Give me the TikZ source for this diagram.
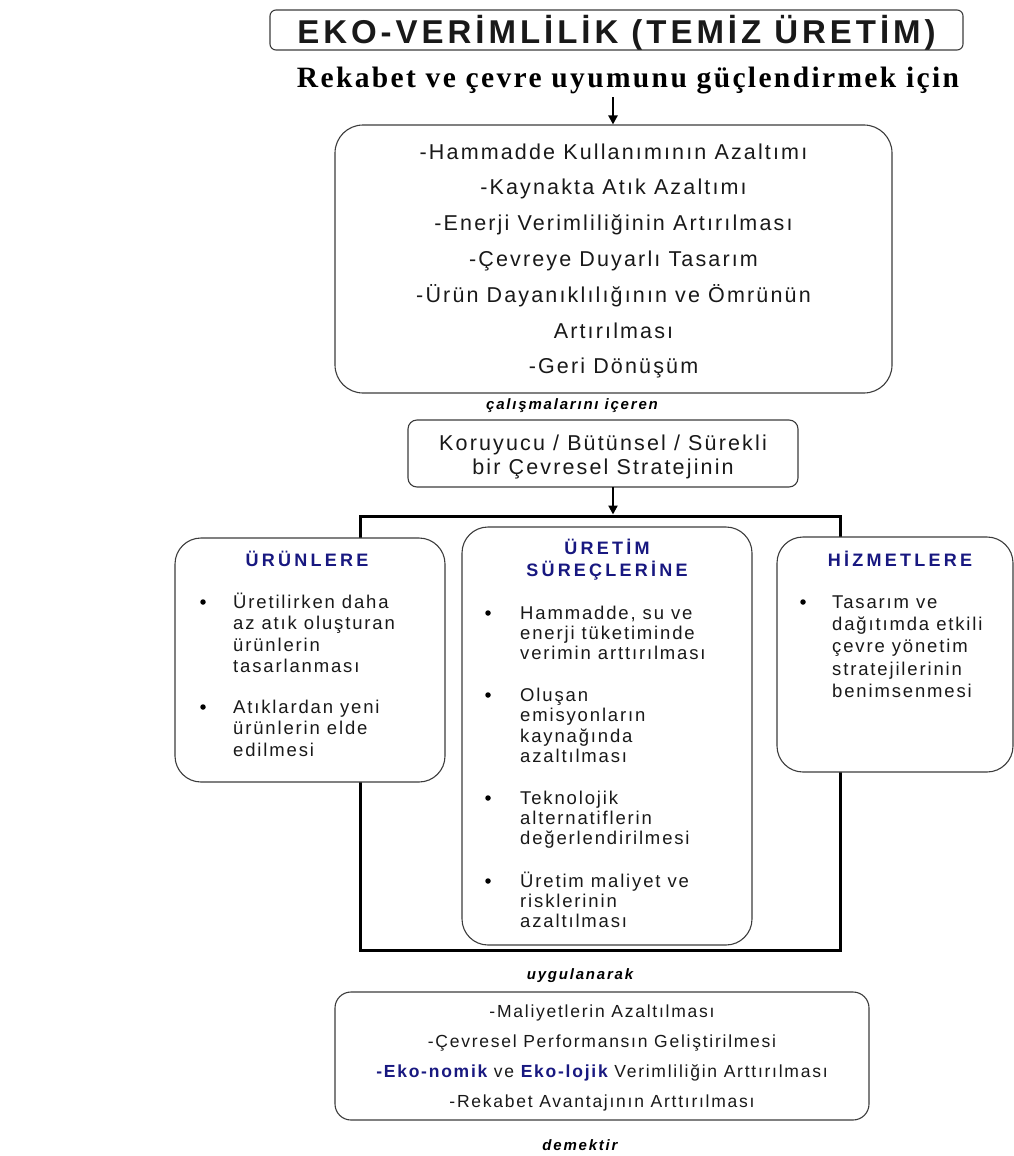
\documentclass[tikz,border=0pt]{standalone}
\usepackage{fontspec}
\usetikzlibrary{arrows.meta}
\newfontfamily\bodyf{Liberation Sans}[LetterSpace=10]
\newfontfamily\headf{Liberation Sans}[LetterSpace=18]
\newfontfamily\titlef{Liberation Sans}[LetterSpace=12]
\newfontfamily\subf{Liberation Serif}[LetterSpace=8]
\newfontfamily\capf{Liberation Sans}[LetterSpace=12]
\definecolor{navy}{RGB}{24,24,128}
\definecolor{ink}{RGB}{25,25,25}
\definecolor{edge}{RGB}{60,60,60}
\newcommand\fBig{\bodyf\fontsize{21.5}{25}\selectfont}
\newcommand\fMid{\bodyf\fontsize{18.5}{21}\selectfont}
\newcommand\fLow{\bodyf\fontsize{17.5}{20}\selectfont}
\newcommand\fHead{\headf\bfseries\fontsize{18}{21}\selectfont}
\newcommand\fCap{\capf\bfseries\itshape\fontsize{15}{18}\selectfont}
\tikzset{
  rbox/.style={draw=edge, line width=1.1pt, fill=white, inner sep=0pt},
  framebox/.style={draw=black, line width=3pt, inner sep=0pt},
  arr/.style={draw=black, line width=2.2pt, -{Triangle[length=9pt,width=9pt]}},
  txt/.style={inner sep=0pt, text=ink},
  dot/.style={circle, fill=black, inner sep=0pt, minimum size=5.5pt},
}
\begin{document}
\begin{tikzpicture}[x=1pt,y=-1pt]
\useasboundingbox (0,0) rectangle (1014,1156);

% title
\node[rbox, rounded corners=6pt, minimum width=693pt, minimum height=40pt] (tbox) at (616.5,30) {};
\node[txt, anchor=base, font=\titlef\bfseries\fontsize{33}{36}\selectfont] (ttl) at (616.5,43.5) {EKO-VERİMLİLİK (TEMİZ ÜRETİM)};
\node[txt, anchor=base, text=black, font=\subf\bfseries\fontsize{29.5}{30}\selectfont] (sub) at (628,87) {Rekabet ve çevre uyumunu güçlendirmek için};

% box 1
\node[rbox, rounded corners=28pt, minimum width=557pt, minimum height=268pt] (box1) at (613.5,259) {};
\foreach \s [count=\k] in {{-Hammadde Kullanımının Azaltımı},{-Kaynakta Atık Azaltımı},{-Enerji Verimliliğinin Artırılması},{-Çevreye Duyarlı Tasarım},{-Ürün Dayanıklılığının ve Ömrünün},{Artırılması},{-Geri Dönüşüm}}
  \node[txt, anchor=base, font=\fBig] (bA\k) at ({613.5},{159+(\k-1)*35.8}) {\s};
\coordinate (a1) at (613,97);
\draw[arr] (a1) -- (a1 |- box1.north);

\node[txt, anchor=base, text=black, font=\fCap] (cap1) at (572,409) {çalışmalarını içeren};

% strategy box
\node[rbox, rounded corners=9pt, minimum width=390pt, minimum height=67pt] (kor) at (603,453.5) {};
\node[txt, anchor=base, font=\fBig] (kA) at (603,450) {Koruyucu / Bütünsel / Sürekli};
\node[txt, anchor=base, font=\fBig] (kB) at (603,474) {bir Çevresel Stratejinin};

% frame
\node[framebox, minimum width=480pt, minimum height=434pt] (frame) at (600,733) {};
\coordinate (a2) at (613,487);
\draw[arr] (a2) -- (a2 |- frame.north);

% left box
\node[rbox, rounded corners=26pt, minimum width=270pt, minimum height=244pt] (lbox) at (310,660) {};
\node[txt, anchor=base, text=navy, font=\fHead] (lT) at (307,566.5) {ÜRÜNLERE};
\node[dot] (lb1) at (203,602) {};
\foreach \s [count=\k] in {{Üretilirken daha},{az atık oluşturan},{ürünlerin},{tasarlanması}}
  \node[txt, anchor=base west, font=\fMid] (lA\k) at ({233},{608+(\k-1)*21.5}) {\s};
\node[dot] (lb2) at (203,707) {};
\foreach \s [count=\k] in {{Atıklardan yeni},{ürünlerin elde},{edilmesi}}
  \node[txt, anchor=base west, font=\fMid] (lB\k) at ({233},{713+(\k-1)*21.5}) {\s};

% middle box
\node[rbox, rounded corners=26pt, minimum width=290pt, minimum height=418pt] (mbox) at (607,736) {};
\node[txt, anchor=base, text=navy, font=\fHead] (mT1) at (607,554.5) {ÜRETİM};
\node[txt, anchor=base, text=navy, font=\fHead] (mT2) at (607,576.5) {SÜREÇLERİNE};
\node[dot] (mb1) at (488,613) {};
\foreach \s [count=\k] in {{Hammadde, su ve},{enerji tüketiminde},{verimin arttırılması}}
  \node[txt, anchor=base west, font=\fMid] (mA\k) at ({520},{619+(\k-1)*20.2}) {\s};
\node[dot] (mb2) at (488,695) {};
\foreach \s [count=\k] in {{Oluşan},{emisyonların},{kaynağında},{azaltılması}}
  \node[txt, anchor=base west, font=\fMid] (mB\k) at ({520},{701+(\k-1)*20.5}) {\s};
\node[dot] (mb3) at (488,798) {};
\foreach \s [count=\k] in {{Teknolojik},{alternatiflerin},{değerlendirilmesi}}
  \node[txt, anchor=base west, font=\fMid] (mC\k) at ({520},{804+(\k-1)*20.3}) {\s};
\node[dot] (mb4) at (488,881) {};
\foreach \s [count=\k] in {{Üretim maliyet ve},{risklerinin},{azaltılması}}
  \node[txt, anchor=base west, font=\fMid] (mD\k) at ({520},{887+(\k-1)*20.3}) {\s};

% right box
\node[rbox, rounded corners=26pt, minimum width=236pt, minimum height=235pt] (rbx) at (895,654.5) {};
\node[txt, anchor=base, text=navy, font=\fHead] (rT) at (900,566.5) {HİZMETLERE};
\node[dot] (rb1) at (803,602) {};
\foreach \s [count=\k] in {{Tasarım ve},{dağıtımda etkili},{çevre yönetim},{stratejilerinin},{benimsenmesi}}
  \node[txt, anchor=base west, font=\fMid] (rA\k) at ({832},{608+(\k-1)*22.4}) {\s};

\node[txt, anchor=base, text=black, font=\fCap] (cap2) at (580,979) {uygulanarak};

% bottom box
\node[rbox, rounded corners=16pt, minimum width=534pt, minimum height=128pt] (bbox) at (602,1056) {};
\foreach \s [count=\k] in {{-Maliyetlerin Azaltılması},{-Çevresel Performansın Geliştirilmesi},{{\bfseries\color{navy}-Eko-nomik} ve {\bfseries\color{navy}Eko-lojik} Verimliliğin Arttırılması},{-Rekabet Avantajının Arttırılması}}
  \node[txt, anchor=base, font=\fLow] (bL\k) at ({602},{1017.5+(\k-1)*30}) {\s};

\node[txt, anchor=base, text=black, font=\fCap] (cap3) at (580,1150) {demektir};
\end{tikzpicture}
\end{document}
